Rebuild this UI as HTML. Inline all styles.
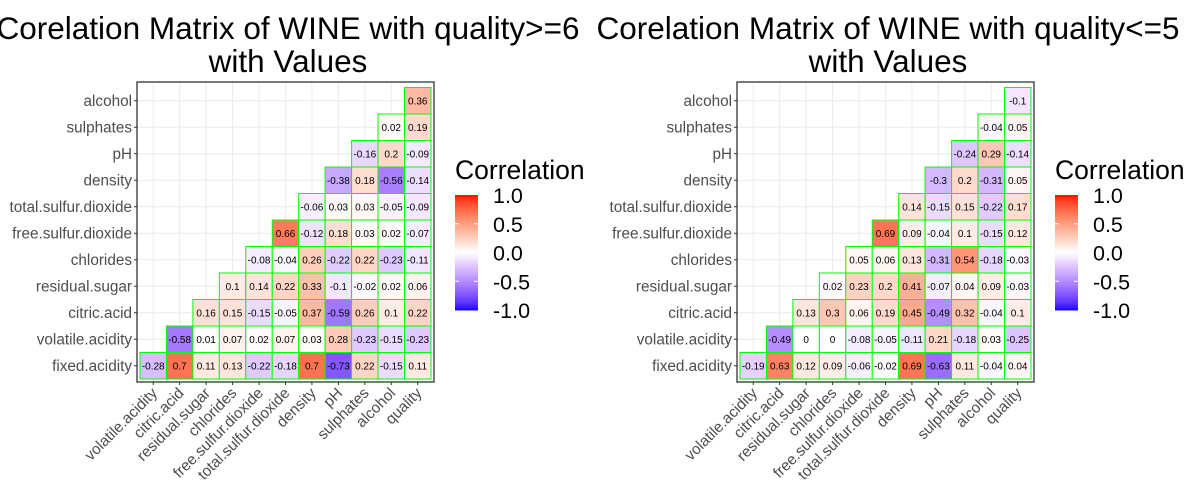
<!DOCTYPE html>
<html><head><meta charset="utf-8"><style>
html,body{margin:0;padding:0;background:#fff;width:1200px;height:500px;overflow:hidden}
svg{font-family:"Liberation Sans",Arial,sans-serif;display:block}
</style></head><body>
<svg id="chart" width="1200" height="500" viewBox="0 0 1200 500"></svg>
<script>
const rowLabels=["fixed.acidity","volatile.acidity","citric.acid","residual.sugar","chlorides","free.sulfur.dioxide","total.sulfur.dioxide","density","pH","sulphates","alcohol"];
const colLabels=["volatile.acidity","citric.acid","residual.sugar","chlorides","free.sulfur.dioxide","total.sulfur.dioxide","density","pH","sulphates","alcohol","quality"];
const legendTicks=[1.0,0.5,0.0,-0.5,-1.0];
const highValues=[
[-0.28,0.7,0.11,0.13,-0.22,-0.18,0.7,-0.73,0.22,-0.15,0.11],
[-0.58,0.01,0.07,0.02,0.07,0.03,0.28,-0.23,-0.15,-0.23],
[0.16,0.15,-0.15,-0.05,0.37,-0.59,0.26,0.1,0.22],
[0.1,0.14,0.22,0.33,-0.1,-0.02,0.02,0.06],
[-0.08,-0.04,0.26,-0.22,0.22,-0.23,-0.11],
[0.66,-0.12,0.18,0.03,0.02,-0.07],
[-0.06,0.03,0.03,-0.05,-0.09],
[-0.38,0.18,-0.56,-0.14],
[-0.16,0.2,-0.09],
[0.02,0.19],
[0.36]];
const lowValues=[
[-0.19,0.63,0.12,0.09,-0.06,-0.02,0.69,-0.63,0.11,-0.04,0.04],
[-0.49,0,0,-0.08,-0.05,-0.11,0.21,-0.18,0.03,-0.25],
[0.13,0.3,0.06,0.19,0.45,-0.49,0.32,-0.04,0.1],
[0.02,0.23,0.2,0.41,-0.07,0.04,0.09,-0.03],
[0.05,0.06,0.13,-0.31,0.54,-0.18,-0.03],
[0.69,0.09,-0.04,0.1,-0.15,0.12],
[0.14,-0.15,0.15,-0.22,0.17],
[-0.3,0.2,-0.31,0.05],
[-0.24,0.29,-0.14],
[-0.04,0.05],
[-0.1]];
const titles=[["Corelation Matrix of WINE with quality>=6","with Values"],["Corelation Matrix of WINE with quality<=5","with Values"]];

const NS="http://www.w3.org/2000/svg";
const svg=document.getElementById('chart');
function mk(tag,attrs,parent,text){const e=document.createElementNS(NS,tag);for(const k in attrs)e.setAttribute(k,attrs[k]);if(text!==undefined)e.textContent=text;(parent||svg).appendChild(e);return e;}
const LR=[53.24,80.09,67.20],LW=[100,0,0],LB=[32.30,79.19,-107.86];
function lab2rgb(L,a,b){let y=(L+16)/116,x=a/500+y,z=y-b/200;
 const f=t=>t*t*t>0.008856?t*t*t:(t-16/116)/7.787;
 x=0.95047*f(x);y=1*f(y);z=1.08883*f(z);
 let r=x*3.2406+y*-1.5372+z*-0.4986,g=x*-0.9689+y*1.8758+z*0.0415,bb=x*0.0557+y*-0.2040+z*1.0570;
 const c=v=>{v=v>0.0031308?1.055*Math.pow(v,1/2.4)-0.055:12.92*v;return Math.max(0,Math.min(255,Math.round(v*255)));};
 return `rgb(${c(r)},${c(g)},${c(bb)})`;}
function color(v){const t=Math.min(1,Math.abs(v));const e=v>=0?LR:LB;return lab2rgb(LW[0]+(e[0]-LW[0])*t,LW[1]+(e[1]-LW[1])*t,LW[2]+(e[2]-LW[2])*t);}

function drawPanel(ox,values,title,idx){
 const g=mk('g',{});
 
 
 const px=ox+137,py=82,pw=297,ph=300;
 const x0=px+3,y1=py+297,cw=26.45,ch=26.5;
 const xs=j=>x0+j*cw, ys=i=>y1-(i+1)*ch;
 const t1=mk('text',{x:ox+288,y:39,'text-anchor':'middle','font-size':31.5,fill:'#000'},g,title[0]);
 
 const t2=mk('text',{x:ox+288,y:72,'text-anchor':'middle','font-size':31.5,fill:'#000'},g,title[1]);
 
 for(let j=0;j<colLabels.length;j++){const l=mk('line',{x1:xs(j)+cw/2,x2:xs(j)+cw/2,y1:py,y2:py+ph,stroke:'#ebebeb','stroke-width':1},g);}
 for(let i=0;i<rowLabels.length;i++){const l=mk('line',{x1:px,x2:px+pw,y1:ys(i)+ch/2,y2:ys(i)+ch/2,stroke:'#ebebeb','stroke-width':1},g);}
 values.forEach((row,i)=>{row.forEach((v,k)=>{const j=i+k;
  const r=mk('rect',{x:xs(j),y:ys(i),width:cw,height:ch,fill:color(v),stroke:'#00ff00','stroke-width':1},g);
  
  const t=mk('text',{x:xs(j)+cw/2,y:ys(i)+ch/2+3.5,'text-anchor':'middle','font-size':10,fill:'#000'},g,String(v));
  });});
 const b=mk('rect',{x:px,y:py,width:pw,height:ph,fill:'none',stroke:'#333','stroke-width':1.3},g);
 
 rowLabels.forEach((lab,i)=>{const cy=ys(i)+ch/2;
  mk('line',{x1:px-3,x2:px,y1:cy,y2:cy,stroke:'#333'},g);
  const t=mk('text',{x:px-5,y:cy+5,'text-anchor':'end','font-size':15.3,fill:'#4d4d4d'},g,lab);
  });
 colLabels.forEach((lab,j)=>{const cx=xs(j)+cw/2;
  mk('line',{x1:cx,x2:cx,y1:py+ph,y2:py+ph+3,stroke:'#333'},g);
  const tx=cx+5,ty=py+ph+12;
  const t=mk('text',{x:tx,y:ty,'text-anchor':'end','font-size':15.3,fill:'#4d4d4d',transform:`rotate(-45 ${tx} ${ty})`},g,lab);
  });
 const lg=mk('g',{},g);
 const lt=mk('text',{x:ox+455,y:179,'font-size':26.5,fill:'#000'},lg,'Correlation');
 
 const by0=195,by1=310,n=60;
 for(let s=0;s<n;s++){const v=1-2*(s+0.5)/n;mk('rect',{x:ox+455,y:by0+(by1-by0)*s/n,width:23,height:(by1-by0)/n+0.5,fill:color(v)},lg);}
 legendTicks.forEach(v=>{const y=by0+(1-v)/2*(by1-by0);
  if(Math.abs(v)<1){mk('line',{x1:ox+455,x2:ox+459,y1:y,y2:y,stroke:'#fff'},lg);mk('line',{x1:ox+474,x2:ox+478,y1:y,y2:y,stroke:'#fff'},lg);}
  const t=mk('text',{x:ox+493,y:y+8,'font-size':21.5,fill:'#000'},lg,v.toFixed(1));
  });
}
drawPanel(0,highValues,titles[0],0);
drawPanel(600,lowValues,titles[1],1);
</script>
</body></html>
